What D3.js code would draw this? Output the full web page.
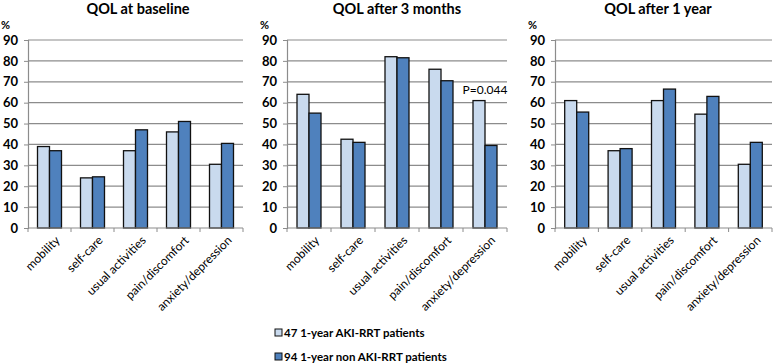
<!DOCTYPE html>
<html>
<head>
<meta charset="utf-8">
<script src="https://cdn.jsdelivr.net/npm/d3@7"></script>
<style>
  body { margin: 0; background: #fff; }
  text { font-family: Lato, "Open Sans", sans-serif; fill: #000; }
</style>
</head>
<body>
<div id="chart"></div>
<script>
// data
const categories = ["mobility", "self-care", "usual activities", "pain/discomfort", "anxiety/depression"];
const seriesNames = ["47 1-year AKI-RRT patients", "94 1-year non AKI-RRT patients"];
const panelTitles = ["QOL at baseline", "QOL after 3 months", "QOL after 1 year"];
const akiValues = [
    [39, 24, 37, 46, 30.5],
    [64, 42.5, 82, 76, 61],
    [61, 37, 61, 54.5, 30.5]
];
const nonAkiValues = [
    [37, 24.5, 47, 51, 40.5],
    [55, 41, 81.5, 70.5, 39.5],
    [55.5, 38, 66.5, 63, 41]
];
const yTicks = [0, 10, 20, 30, 40, 50, 60, 70, 80, 90];
const annotation = { panel: 1, category: "anxiety/depression", text: "P=0.044" };

const colors = ["#c9daee", "#4f81bd"];

const width = 778, height = 363;
const svg = d3.select("#chart").append("svg")
    .attr("width", width)
    .attr("height", height);

// panel positions (left axis x, right end of grid)
const panels = [
    { left: 28, right: 243, titleX: 138 },
    { left: 287, right: 507, titleX: 397 },
    { left: 555, right: 772, titleX: 658 }
];

const y = d3.scaleLinear().domain([0, 90]).range([228, 40]);

panels.forEach((p, i) => {
    const g = svg.append("g");

    const x = d3.scaleBand().domain(categories).range([p.left, p.right]);
    const inner = d3.scaleBand().domain([0, 1]).range([0, 24]);

    // gridlines
    g.selectAll(".grid")
        .data(yTicks.filter(t => t > 0))
        .enter().append("line")
        .attr("x1", p.left).attr("x2", p.right)
        .attr("y1", d => y(d)).attr("y2", d => y(d))
        .attr("stroke", "#8c8c8c").attr("stroke-width", 1.2);

    // y axis
    const yAxis = d3.axisLeft(y).tickValues(yTicks).tickSize(4).tickPadding(6);
    const ya = g.append("g").attr("transform", `translate(${p.left},0)`).call(yAxis);
    ya.select(".domain").attr("stroke", "#8c8c8c").attr("stroke-width", 1.2);
    ya.selectAll(".tick line").attr("stroke", "#8c8c8c");
    ya.selectAll(".tick text")
        .style("font-family", "Lato, sans-serif")
        .style("font-size", "13px").style("font-weight", "bold");

    // bars
    const data = categories.map((c, k) => ({ c, v: [akiValues[i][k], nonAkiValues[i][k]] }));
    const groups = g.selectAll(".grp").data(data).enter().append("g")
        .attr("transform", d => `translate(${x(d.c) + x.bandwidth() / 2 - 12},0)`);
    groups.selectAll("rect")
        .data(d => d.v.map((v, s) => ({ v, s })))
        .enter().append("rect")
        .attr("x", d => inner(d.s))
        .attr("y", d => y(d.v))
        .attr("width", inner.bandwidth())
        .attr("height", d => y(0) - y(d.v))
        .attr("fill", d => colors[d.s])
        .attr("stroke", "#111")
        .attr("stroke-width", 1.3);

    // x axis at 0 with ticks between categories
    g.append("line")
        .attr("x1", p.left).attr("x2", p.right)
        .attr("y1", y(0)).attr("y2", y(0))
        .attr("stroke", "#8c8c8c").attr("stroke-width", 1.2);
    g.selectAll(".xt")
        .data(categories.map(c => x(c)).concat([p.right]))
        .enter().append("line")
        .attr("x1", d => d).attr("x2", d => d)
        .attr("y1", y(0)).attr("y2", y(0) + 4)
        .attr("stroke", "#8c8c8c");

    // category labels
    g.selectAll(".cat")
        .data(categories)
        .enter().append("text")
        .attr("transform", d => `translate(${x(d) + x.bandwidth() / 2 + 6},${y(0) + 8}) rotate(-45)`)
        .attr("text-anchor", "end")
        .attr("dy", "0.6em")
        .style("font-size", "12px")
        .text(d => d);

    // title
    g.append("text")
        .attr("x", p.titleX).attr("y", 14)
        .attr("text-anchor", "middle")
        .style("font-size", "14.5px").style("font-weight", "bold")
        .text(panelTitles[i]);

    // unit
    g.append("text")
        .attr("x", p.left - 27).attr("y", 29)
        .style("font-size", "11px").style("font-weight", "bold")
        .text("%");

    // p-value note
    if (annotation.panel === i) {
        const k = categories.indexOf(annotation.category);
        g.append("text")
            .attr("x", x(annotation.category) + x.bandwidth() / 2 - 12 + inner(0) + inner.bandwidth() / 2 + 6)
            .attr("y", y(akiValues[i][k]) - 7)
            .attr("text-anchor", "middle")
            .style("font-size", "12px")
            .text(annotation.text);
    }
});

// legend
const legend = svg.append("g");
seriesNames.forEach((name, s) => {
    const ly = 333 + s * 24;
    legend.append("rect")
        .attr("x", 275).attr("y", ly - 4)
        .attr("width", 7).attr("height", 7)
        .attr("fill", colors[s])
        .attr("stroke", "#111").attr("stroke-width", 1);
    legend.append("text")
        .attr("x", 284).attr("y", ly + 4)
        .style("font-size", "11.5px").style("font-weight", "bold")
        .text(name);
});
</script>
</body>
</html>
